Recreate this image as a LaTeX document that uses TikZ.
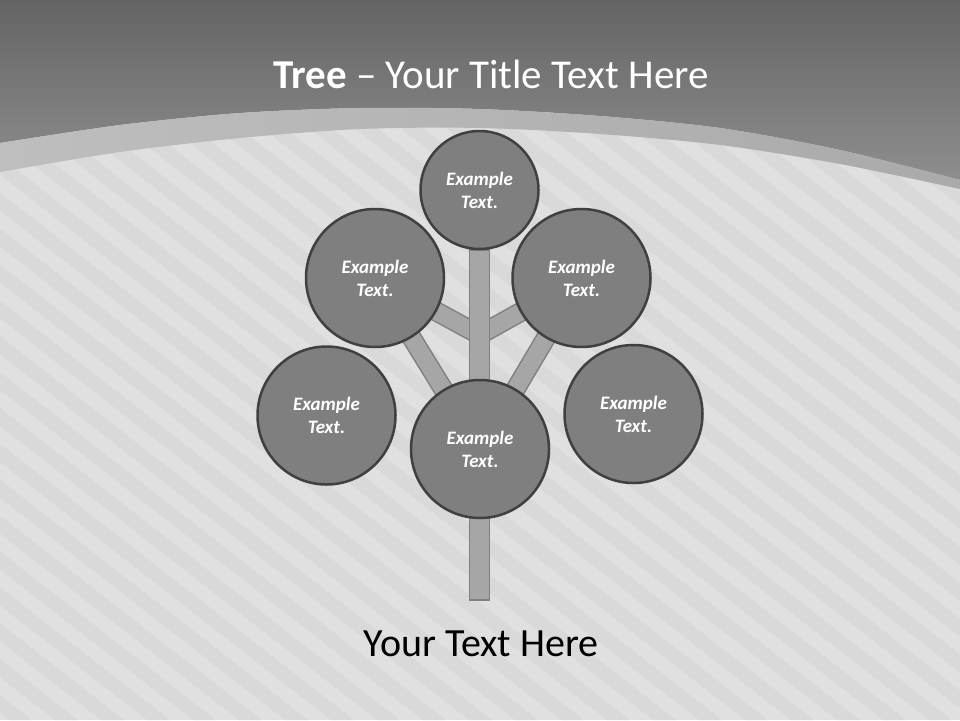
\documentclass[tikz,border=0pt]{standalone}
\usepackage{fontspec}
\setmainfont{Carlito}
\usepackage{xcolor}
\usetikzlibrary{positioning}
\definecolor{skytop}{RGB}{100,100,100}
\definecolor{skybot}{RGB}{142,142,142}
\definecolor{bandl}{RGB}{190,190,190}
\definecolor{bandr}{RGB}{170,170,170}
\definecolor{paper}{RGB}{224,224,224}
\definecolor{stripe}{RGB}{217,217,217}
\definecolor{leaffill}{RGB}{127,127,127}
\definecolor{leafline}{RGB}{64,64,64}
\definecolor{limbfill}{RGB}{166,166,166}
\definecolor{limbline}{RGB}{128,128,128}
\newcommand{\ex}{Example\\Text.}

\begin{document}
\begin{tikzpicture}[x=1pt,y=-1pt,
  leaf/.style={circle,draw=leafline,line width=2.5pt,fill=leaffill,minimum size=138pt,
    inner sep=0pt,align=center,text=white,font=\fontsize{19}{23}\selectfont\bfseries\itshape},
  bud/.style={leaf,minimum size=118pt},
  limb/.style={draw=limbline,line width=1.5pt,double=limbfill,double distance=17pt},
  trunkbox/.style={rectangle,draw=limbline,line width=1.5pt,fill=limbfill,
    minimum width=20pt,minimum height=350pt,inner sep=0pt},
  headline/.style={text=white,font=\fontsize{41}{49}\selectfont}]
  \useasboundingbox (0,0) rectangle (960,720);
  \fill[paper] (0,0) rectangle (960,720);
  \begin{scope}
    \clip (0,0) rectangle (960,720);
    \foreach \k in {-960,-914,...,960}
      \fill[stripe] (\k,0) -- ++(23,0) -- ++(923,720) -- ++(-23,0) -- cycle;
  \end{scope}
  \shade[top color=skytop,bottom color=skybot] (0,0) -- (960,0) -- plot[smooth] coordinates
    {(960,180) (840,150) (720,128) (600,116) (480,109) (360,108) (240,113) (120,125) (0,143)} -- cycle;
  \shade[left color=bandl,right color=bandr] plot[smooth] coordinates
    {(0,143) (120,125) (240,113) (360,108) (480,109) (600,116) (720,128) (840,150) (960,180)}
    -- plot[smooth] coordinates
    {(960,189) (840,164) (720,145) (600,134) (480,128) (360,129) (240,138) (120,152) (0,172)} -- cycle;

  \node[headline,anchor=base] (title) at (491,88) {\textbf{Tree} \textendash{} Your Title Text Here};

  \coordinate (ptop) at (479.5,190);
  \coordinate (pul) at (375,278);
  \coordinate (pur) at (581.5,278);
  \coordinate (pll) at (326.5,415.5);
  \coordinate (pbase) at (480,449);
  \coordinate (prr) at (633.5,414);
  \coordinate (fork) at (479.5,335);

  \draw[limb] (fork) -- (pul);
  \draw[limb] (fork) -- (pur);
  \draw[limb] (pbase) -- (pul);
  \draw[limb] (pbase) -- (pur);
  \node[trunkbox] (trunk) at (479.5,425) {};

  \node[bud] (top) at (ptop) {\ex};
  \node[leaf] (upleft) at (pul) {\ex};
  \node[leaf] (upright) at (pur) {\ex};
  \node[leaf] (lowleft) at (pll) {\ex};
  \node[leaf] (lowright) at (prr) {\ex};
  \node[leaf] (base) at (pbase) {\ex};

  \node[anchor=base,font=\fontsize{40}{48}\selectfont] (caption) at (481,656) {Your Text Here};
\end{tikzpicture}
\end{document}
